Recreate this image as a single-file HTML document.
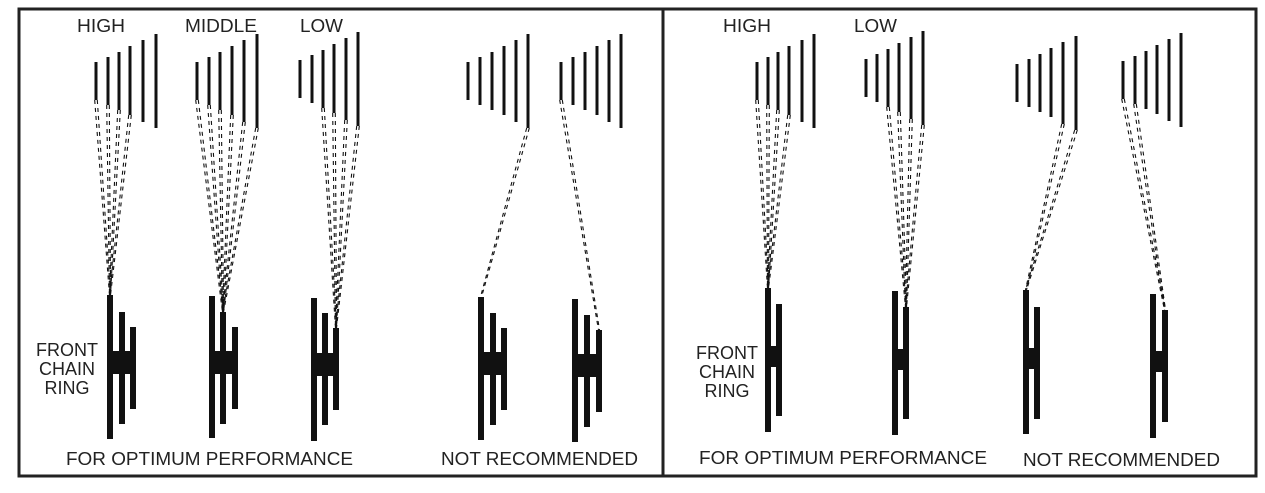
<!DOCTYPE html>
<html><head><meta charset="utf-8"><style>
html,body{margin:0;padding:0;background:#fff;}
svg{display:block;}
text{font-family:"Liberation Sans",Arial,sans-serif;fill:#222;}
</style></head><body>
<svg id="s" width="1265" height="493" xmlns="http://www.w3.org/2000/svg">
<rect x="19" y="9" width="1237" height="467" fill="none" stroke="#222" stroke-width="3"/>
<line x1="663" y1="9" x2="663" y2="476" stroke="#222" stroke-width="3"/>
<g font-size="18">
<text x="77" y="32" textLength="48" lengthAdjust="spacingAndGlyphs">HIGH</text>
<text x="185" y="32" textLength="72" lengthAdjust="spacingAndGlyphs">MIDDLE</text>
<text x="300" y="32" textLength="43" lengthAdjust="spacingAndGlyphs">LOW</text>
<text x="723" y="32" textLength="48" lengthAdjust="spacingAndGlyphs">HIGH</text>
<text x="854" y="32" textLength="43" lengthAdjust="spacingAndGlyphs">LOW</text>
</g>
<g font-size="18">
<text x="66" y="465" textLength="287" lengthAdjust="spacingAndGlyphs">FOR OPTIMUM PERFORMANCE</text>
<text x="441" y="465" textLength="197" lengthAdjust="spacingAndGlyphs">NOT RECOMMENDED</text>
<text x="699" y="464" textLength="288" lengthAdjust="spacingAndGlyphs">FOR OPTIMUM PERFORMANCE</text>
<text x="1023" y="466" textLength="197" lengthAdjust="spacingAndGlyphs">NOT RECOMMENDED</text>
</g>
<g font-size="18" text-anchor="middle">
<text x="67" y="356">FRONT</text><text x="67" y="375">CHAIN</text><text x="67" y="394">RING</text>
<text x="727" y="359">FRONT</text><text x="727" y="378">CHAIN</text><text x="727" y="397">RING</text>
</g>
<g id="g"></g>
</svg>
<script>
var g=document.getElementById('g'),h='';
function cas(xs,t0,b0){var c=[];for(var i=0;i<6;i++){var t=t0-[0,5,10,16,22,28][i],b=b0+[0,5,10,15,22,28][i];h+='<rect x="'+(xs[i]-1.5)+'" y="'+t+'" width="3" height="'+(b-t)+'" fill="#111"/>';c.push([xs[i],b]);}return c;}
function ring(bars,hy1,hy2){bars.forEach(function(b){h+='<rect x="'+b[0]+'" y="'+b[1]+'" width="6" height="'+(b[2]-b[1])+'" fill="#111"/>';});var x1=bars[0][0],x2=bars[bars.length-1][0]+6;h+='<rect x="'+x1+'" y="'+hy1+'" width="'+(x2-x1)+'" height="'+(hy2-hy1)+'" fill="#111"/>';}
function ch(c,idx,tx,ty){idx.forEach(function(i){[-1.3,1.3].forEach(function(o){h+='<line x1="'+(c[i][0]+o)+'" y1="'+c[i][1]+'" x2="'+(tx+o*0.4)+'" y2="'+ty+'" stroke="#111" stroke-width="1.1" stroke-dasharray="4,4"/>';});});}
var c;
c=cas([96,108,119,130,143,156],62,100);ring([[107,295,439],[119,312,424],[130,327,409]],351,374);ch(c,[0,1,2,3],110,295);
c=cas([197,209,220,232,244,257],62,100);ring([[209,296,438],[220,312,424],[232,327,409]],351,374);ch(c,[0,1,2,3,4,5],223,312);
c=cas([300,312,323,334,346,358],60,98);ring([[311,298,441],[322,313,425],[333,328,410]],353,376);ch(c,[2,3,4,5],336,328);
c=cas([468,480,492,504,516,528],62,100);ring([[478,297,440],[490,313,425],[501,328,410]],352,375);ch(c,[5],481,297);
c=cas([561,573,585,597,609,621],62,100);ring([[572,299,442],[584,315,427],[596,330,412]],354,377);ch(c,[0],599,330);
c=cas([757,768,778,789,802,814],62,100);ring([[765,288,432],[776,304,416]],346,367);ch(c,[0,1,2,3],768,288);
c=cas([866,877,888,899,911,923],59,97);ring([[892,291,435],[903,307,419]],349,370);ch(c,[2,3,4,5],906,307);
c=cas([1017,1029,1040,1051,1063,1076],64,102);ring([[1023,290,434],[1034,307,419]],348,369);ch(c,[4,5],1026,290);
c=cas([1123,1135,1146,1157,1169,1181],61,99);ring([[1150,294,438],[1162,310,422]],351,372);ch(c,[0,1],1165,310);
g.innerHTML=h;
</script>
</body></html>
